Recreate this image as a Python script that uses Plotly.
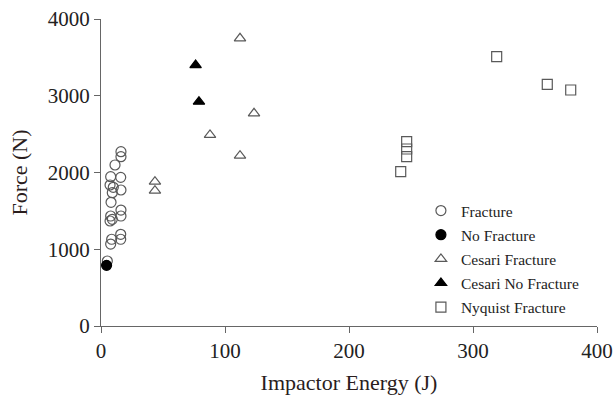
import plotly.graph_objects as go

# Fracture (open circles)
frac_energy = [16.1, 16.1, 11.3, 7.8, 15.9, 7.3, 9.9, 16.1, 9.1, 8.1, 16.1, 16.1, 7.8, 9.1, 7.3, 15.9, 15.9, 8.6, 7.8, 5.1]
frac_force = [2271, 2206, 2098, 1945, 1937, 1837, 1807, 1772, 1737, 1612, 1511, 1433, 1433, 1390, 1368, 1195, 1130, 1130, 1068, 847]

# No Fracture (filled circle)
nofrac_energy = [4.5]
nofrac_force = [790]

# Cesari Fracture (open triangles)
cesari_energy = [112.1, 123.4, 87.9, 112.1, 43.5, 43.5]
cesari_force = [3748, 2771, 2489, 2219, 1880, 1763]

# Cesari No Fracture (filled triangles)
cesari_nf_energy = [76.3, 79.0]
cesari_nf_force = [3400, 2923]

# Nyquist Fracture (open squares)
nyq_energy = [319.1, 359.9, 378.8, 246.5, 246.5, 246.5, 241.7]
nyq_force = [3509, 3149, 3075, 2401, 2306, 2206, 2011]

x_ticks = [0, 100, 200, 300, 400]
y_ticks = [0, 1000, 2000, 3000, 4000]

gray = "#595959"
font_family = "Liberation Serif"

fig = go.Figure()
series = [
    ("Fracture", frac_energy, frac_force, "circle-open", gray, 10),
    ("No Fracture", nofrac_energy, nofrac_force, "circle", "black", 10),
    ("Cesari Fracture", cesari_energy, cesari_force, "triangle-up-open", gray, 10),
    ("Cesari No Fracture", cesari_nf_energy, cesari_nf_force, "triangle-up", "black", 10),
    ("Nyquist Fracture", nyq_energy, nyq_force, "square-open", gray, 10),
]
for i, (name, xs, ys, sym, col, sz) in enumerate(series):
    fig.add_trace(go.Scatter(
        x=xs, y=ys, mode="markers", name=name, legendgroup=f"g{i}",
        marker=dict(symbol=sym, color=col, size=sz, line=dict(color=col, width=1.2)),
    ))

axis_common = dict(
    showgrid=False, zeroline=False, showline=True, linecolor="#666", linewidth=1,
    ticks="outside", ticklen=6, tickcolor="#666", tickwidth=1, automargin=False,
    tickfont=dict(family=font_family, size=21, color="#222"),
)

fig.update_layout(
    width=613, height=395,
    margin=dict(l=101, r=16, t=19, b=69, autoexpand=False),
    paper_bgcolor="white", plot_bgcolor="white",
    font=dict(family=font_family, color="#222"),
    xaxis=dict(range=[0, 400], tickvals=x_ticks,
               title=dict(text="Impactor Energy (J)", font=dict(family=font_family, size=22, color="#2a1d1d"), standoff=12),
               **axis_common),
    yaxis=dict(range=[0, 4000], tickvals=y_ticks,
               title=dict(text="Force (N)", font=dict(family=font_family, size=22, color="#2a1d1d"), standoff=14),
               **axis_common),
    legend=dict(x=0.645, y=0.43, xanchor="left", yanchor="top",
                font=dict(family=font_family, size=15.5, color="#222"),
                bgcolor="rgba(0,0,0,0)", tracegroupgap=1, traceorder="grouped",
                itemsizing="trace", itemwidth=30),
    showlegend=True,
)

fig.write_html("out.html")
